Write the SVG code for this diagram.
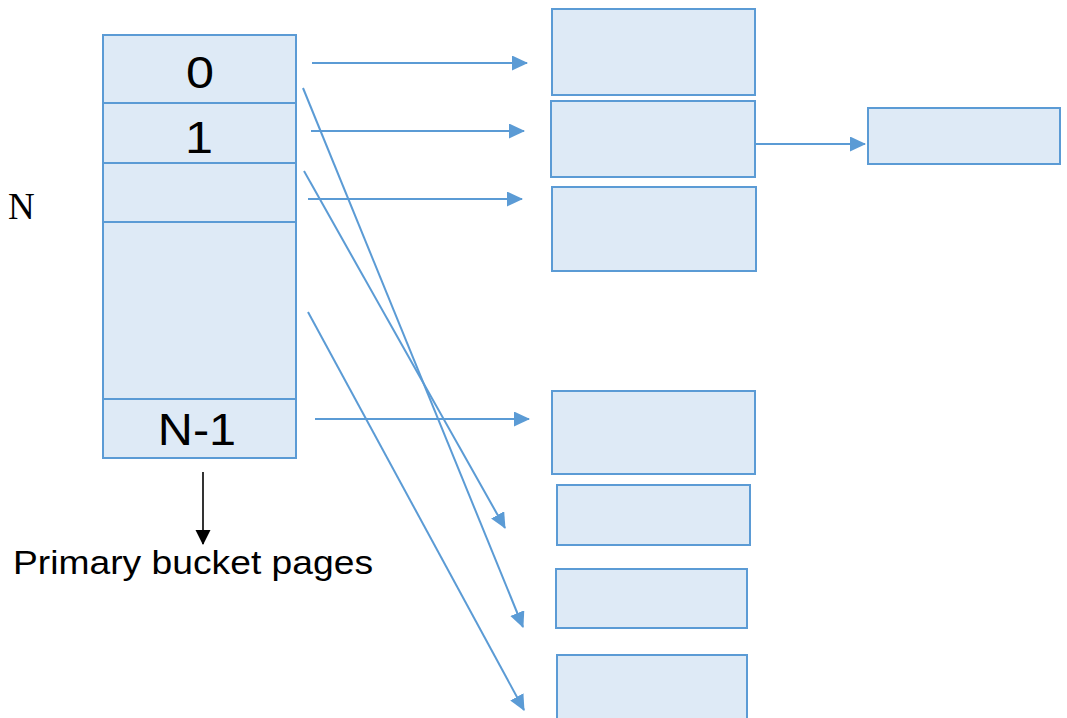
<svg xmlns="http://www.w3.org/2000/svg" width="1067" height="718" viewBox="0 0 1067 718">
  <style>
    .cell { fill: #deeaf6; stroke: #5b9bd5; stroke-width: 2; }
    .div { stroke: #5b9bd5; stroke-width: 2; fill: none; }
    .link { stroke: #5b9bd5; stroke-width: 2; fill: none; marker-end: url(#blueHead); }
    .label { font-family: "Liberation Sans", Arial, sans-serif; font-size: 45px; fill: #000; text-anchor: middle; }
  </style>
  <defs>
    <marker id="blueHead" markerUnits="userSpaceOnUse" markerWidth="16" markerHeight="16" refX="15" refY="7.5" orient="auto">
      <path d="M0,0 L16,7.5 L0,15 z" fill="#5b9bd5"/>
    </marker>
    <marker id="blackHead" markerUnits="userSpaceOnUse" markerWidth="16" markerHeight="16" refX="14" refY="7.5" orient="auto">
      <path d="M0,0 L15,7.5 L0,15 z" fill="#000"/>
    </marker>
  </defs>
  <rect width="1067" height="718" fill="#fff"/>

  <!-- hash directory: N bucket slots -->
  <g id="directory">
    <rect class="cell" x="103" y="35" width="193" height="423"/>
    <line class="div" x1="103" y1="103" x2="296" y2="103"/>
    <line class="div" x1="103" y1="163" x2="296" y2="163"/>
    <line class="div" x1="103" y1="222" x2="296" y2="222"/>
    <line class="div" x1="103" y1="399" x2="296" y2="399"/>
    <text class="label" transform="translate(200,88) scale(1.12,1)">0</text>
    <text class="label" transform="translate(199,153) scale(1.12,1)">1</text>
    <text class="label" transform="translate(197,445) scale(1.08,1)">N-1</text>
  </g>

  <g id="size-label">
    <text x="8" y="219" font-family="'Liberation Serif', 'Times New Roman', serif" font-size="37">N</text>
  </g>

  <!-- bucket pages -->
  <g id="page-a"><rect class="cell" x="552" y="9" width="203" height="86"/></g>
  <g id="page-b"><rect class="cell" x="551" y="101" width="204" height="76"/></g>
  <g id="page-c"><rect class="cell" x="552" y="187" width="204" height="84"/></g>
  <g id="overflow"><rect class="cell" x="868" y="108" width="192" height="56"/></g>
  <g id="page-d"><rect class="cell" x="552" y="391" width="203" height="83"/></g>
  <g id="page-e"><rect class="cell" x="557" y="485" width="193" height="60"/></g>
  <g id="page-f"><rect class="cell" x="556" y="569" width="191" height="59"/></g>
  <g id="page-g"><rect class="cell" x="557" y="655" width="190" height="70"/></g>

  <g id="caption">
    <text x="13" y="574" font-family="'Liberation Sans', Arial, sans-serif" font-size="33" textLength="360" lengthAdjust="spacingAndGlyphs">Primary bucket pages</text>
  </g>

  <!-- connectors -->
  <g id="connectors">
    <line class="link" x1="312" y1="63" x2="527" y2="63"/>
    <line class="link" x1="311" y1="131" x2="524" y2="131"/>
    <line class="link" x1="308" y1="199" x2="522" y2="199"/>
    <line class="link" x1="755" y1="144" x2="865" y2="144"/>
    <line class="link" x1="315" y1="419" x2="529" y2="419"/>
    <line class="link" x1="303" y1="88" x2="523" y2="627"/>
    <line class="link" x1="304" y1="171" x2="505" y2="528"/>
    <line class="link" x1="308" y1="312" x2="524" y2="710"/>
    <line x1="203" y1="472" x2="203" y2="544" stroke="#000" stroke-width="1.6" marker-end="url(#blackHead)"/>
  </g>
</svg>
